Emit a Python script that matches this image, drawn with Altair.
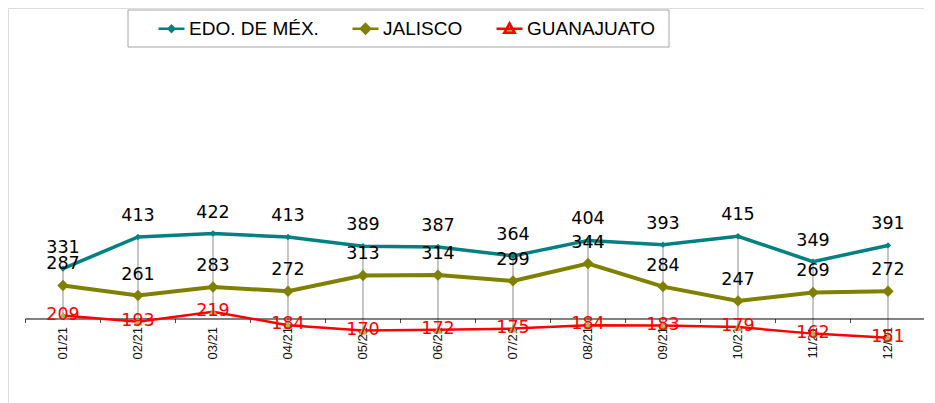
import altair as alt
import pandas as pd
import numpy as np

months = ["01/21", "02/21", "03/21", "04/21", "05/21", "06/21",
          "07/21", "08/21", "09/21", "10/21", "11/21", "12/21"]
series_names = ["EDO. DE MÉX.", "JALISCO", "GUANAJUATO"]
edomex = [331, 413, 422, 413, 389, 387, 364, 404, 393, 415, 349, 391]
jalisco = [287, 261, 283, 272, 313, 314, 299, 344, 284, 247, 269, 272]
guanajuato = [209, 193, 219, 184, 170, 172, 175, 184, 183, 179, 162, 151]
axis_cross = 200

line_colors = ["#008080", "#808000", "#FF0000"]
marker_fill = ["#008080", "#808000", "#9BBB59"]
line_widths = [3.5, 4, 2.5]
marker_shapes = ["diamond", "diamond", "triangle-up"]
marker_sizes = [40, 130, 80]
label_colors = ["#000000", "#000000", "#FF0000"]
label_dy = [-21, -21, -1]
legend_paths = [
    "M-1,0L1,0M0,-0.22L0.22,0L0,0.22L-0.22,0Z",
    "M-1,0L1,0M0,-0.36L0.36,0L0,0.36L-0.36,0Z",
    "M-1,0L1,0M0,-0.42L0.4,0.3L-0.4,0.3Z",
]

values = [edomex, jalisco, guanajuato]
rows = []
for s, vals in zip(series_names, values):
    for i, (m, v) in enumerate(zip(months, vals)):
        rows.append({"series": s, "i": i, "month": m, "value": v})
df = pd.DataFrame(rows)

hl = pd.DataFrame({
    "i": np.arange(len(months)),
    "month": months,
    "hi": np.max(np.array(values), axis=0),
    "lo": np.min(np.array(values), axis=0),
    "cross": axis_cross,
})
ticks = pd.DataFrame({"b": np.arange(len(months) + 1) - 0.5, "cross": axis_cross})

W, H = 916, 400
xs = alt.Scale(domain=[-0.7333, 11.48], nice=False, zero=False)
ys = alt.Scale(domain=[-31.2, 1007.8], nice=False, zero=False)

X = lambda f: alt.X(f, scale=xs, axis=None)
Y = lambda f: alt.Y(f, scale=ys, axis=None)

layers = []

# high-low lines
layers.append(alt.Chart(hl).mark_rule(color="#8c8c8c", strokeWidth=1).encode(
    x=X("i:Q"), y=Y("hi:Q"), y2="lo:Q"))

# category axis line and ticks
layers.append(alt.Chart(ticks).mark_rule(color="#000000", strokeWidth=1).encode(
    x=alt.X("min(b):Q", scale=xs, axis=None), x2="max(b):Q",
    y=Y("cross:Q")))
layers.append(alt.Chart(ticks).mark_tick(orient="vertical", size=4, thickness=1,
                                         color="#000000", yOffset=2).encode(
    x=X("b:Q"), y=Y("cross:Q")))

# month labels
layers.append(alt.Chart(hl).mark_text(angle=270, align="right", baseline="middle",
                                      yOffset=8, font="Liberation Sans",
                                      fontSize=13, color="#111111").encode(
    x=X("i:Q"), y=Y("cross:Q"), text="month:N"))

for k, s in enumerate(series_names):
    base = alt.Chart(df).transform_filter(alt.datum.series == s)
    layers.append(base.mark_line(color=line_colors[k], strokeWidth=line_widths[k]).encode(
        x=X("i:Q"), y=Y("value:Q")))
for k, s in enumerate(series_names):
    base = alt.Chart(df).transform_filter(alt.datum.series == s)
    layers.append(base.mark_point(shape=marker_shapes[k], filled=True,
                                  size=marker_sizes[k], fill=marker_fill[k],
                                  opacity=1, strokeWidth=0).encode(
        x=X("i:Q"), y=Y("value:Q")))
for k, s in enumerate(series_names):
    base = alt.Chart(df).transform_filter(alt.datum.series == s)
    layers.append(base.mark_text(font="DejaVu Sans", fontSize=17.5, color=label_colors[k],
                                 baseline="middle", align="center", dy=label_dy[k]).encode(
        x=X("i:Q"), y=Y("value:Q"), text="value:Q"))

# legend frame
layers.append(alt.Chart(alt.Data(values=[{}])).mark_rect(
    fill="#ffffff", stroke="#a6a6a6", strokeWidth=1).encode(
    x=alt.value(120), x2=alt.value(661), y=alt.value(2), y2=alt.value(39)))

# legend-only layer
leg = alt.Legend(title=None, orient="none", legendX=149, legendY=6,
                 direction="horizontal", labelFont="Liberation Sans",
                 labelFontSize=19, labelColor="#000000", symbolSize=676,
                 symbolStrokeWidth=2.5, columnPadding=28, labelOffset=3,
                 padding=0, symbolOpacity=1)
legend_df = pd.DataFrame({"series": series_names})
layers.append(alt.Chart(legend_df).transform_filter("false").mark_point(
    filled=True, opacity=1).encode(
    stroke=alt.Stroke("series:N", scale=alt.Scale(domain=series_names, range=line_colors),
                      legend=leg, title=None),
    fill=alt.Fill("series:N", scale=alt.Scale(domain=series_names, range=marker_fill),
                  legend=leg, title=None),
    shape=alt.Shape("series:N", scale=alt.Scale(domain=series_names, range=legend_paths),
                    legend=leg, title=None),
))

chart = alt.layer(*layers).properties(
    width=W, height=H, padding=0,
    autosize=alt.AutoSizeParams(type="none"),
).configure_view(stroke="#aaaaaa", strokeWidth=1.5).configure(background="#ffffff")

chart.save("out.html", embed_options={"renderer": "svg", "actions": False})
